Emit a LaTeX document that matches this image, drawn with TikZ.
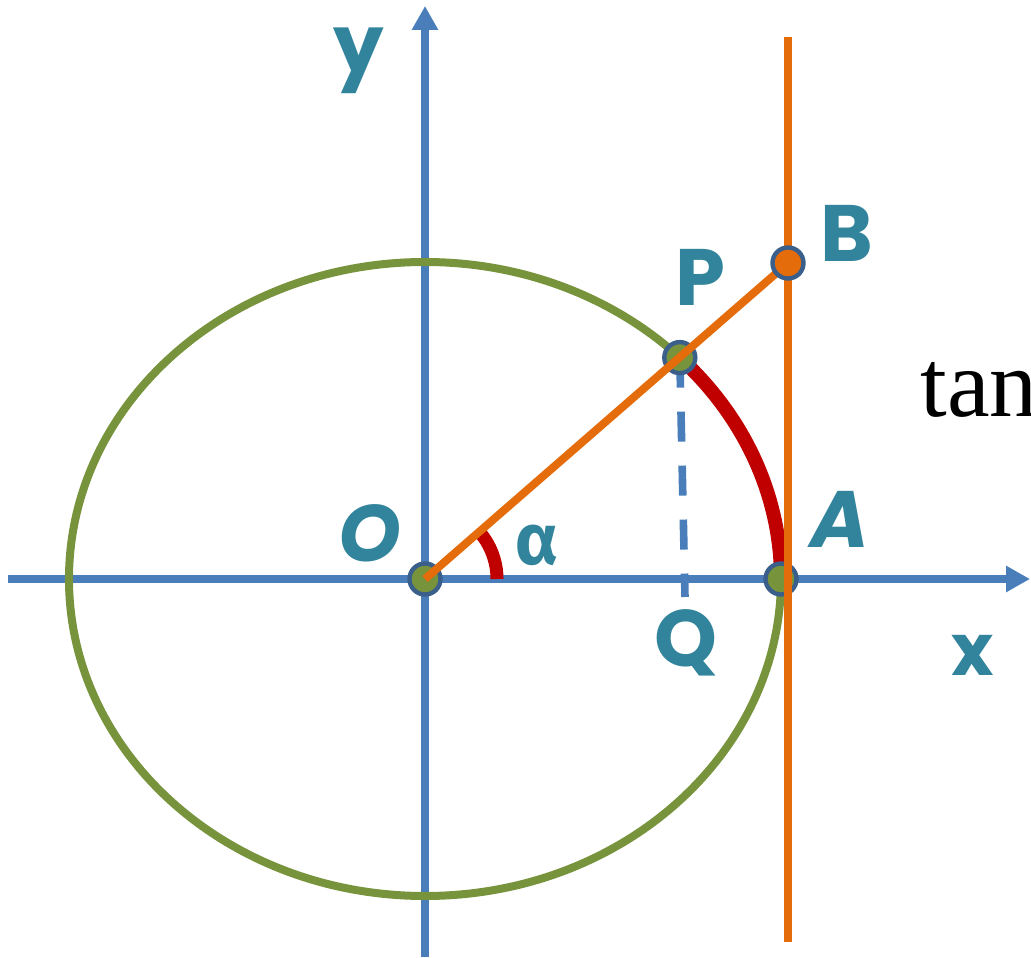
\documentclass[tikz,border=0pt]{standalone}
\usepackage{fontspec}
\usetikzlibrary{arrows.meta}
\newfontfamily\labfont{Poppins}
\newfontfamily\greekfont{Fira Sans}
\newfontfamily\tanfont{Liberation Serif}
\definecolor{axisblue}{HTML}{4A7EBB}
\definecolor{ellgreen}{HTML}{77933C}
\definecolor{lineorange}{HTML}{E46C0A}
\definecolor{arcred}{HTML}{C00000}
\definecolor{dotborder}{HTML}{3A5F8B}
\definecolor{labteal}{HTML}{31849B}
\tikzset{
  axis/.style={axisblue, line width=4.2pt, -{Triangle[width=12.5pt,length=12pt]}},
  ell/.style={ellgreen, line width=4pt},
  orange line/.style={lineorange, line width=4pt},
  redarc/.style={arcred, line width=7pt},
  pt/.style={circle, draw=dotborder, line width=2.2pt, minimum size=15.5pt, inner sep=0pt},
  lab/.style={text=labteal, font=\labfont\bfseries\fontsize{40}{40}\selectfont, inner sep=0pt},
}
\begin{document}
\begin{tikzpicture}[x=0.5pt, y=0.5pt]
\useasboundingbox (-425,-378) rectangle (606,579);
% coordinates
\coordinate (O) at (0,0);
\coordinate (A) at (356,0);
\coordinate (P) at (254.8,221.4);
\coordinate (B) at (363,316);
\coordinate (Qb) at (260,-18);
\coordinate (xs) at (-417,0);
\coordinate (xe) at (605,0);
\coordinate (ys) at (0,-378);
\coordinate (ye) at (0,573);
\coordinate (Ttop) at (363,542);
\coordinate (Tbot) at (363,-363);
% axes
\draw[axis] (xs) -- (xe);
\draw[axis] (ys) -- (ye);
% ellipse
\draw[ell] (O) ellipse[x radius=178pt, y radius=158.5pt];
% dashed projection
\draw[axisblue, line width=3.8pt, dash pattern=on 15pt off 12pt] (P) -- (Qb);
% red arc on ellipse
\draw[redarc] (A) arc[start angle=0, end angle=44.3, x radius=178pt, y radius=158.5pt];
% angle arc
\draw[arcred, line width=6.5pt] (36pt,0) arc[start angle=0, end angle=41, radius=36pt];
% dots
\node[pt, fill=ellgreen] (Odot) at (O) {};
\node[pt, fill=ellgreen] (Pdot) at (P) {};
\node[pt, fill=ellgreen] (Adot) at (A) {};
% orange lines
\draw[orange line] (Ttop) -- (Tbot);
\draw[orange line] (O) -- (B);
\node[pt, fill=lineorange] (Bdot) at (B) {};
% labels
\node[lab] (ylab) at (-66,518) {y};
\node[lab] (Plab) at (275,302) {P};
\node[lab] (Blab) at (422,346) {B};
\node[lab, font=\labfont\bfseries\itshape\fontsize{40}{40}\selectfont] (Olab) at (-55,46) {O};
\node[lab, font=\greekfont\bfseries\fontsize{36}{36}\selectfont] (alab) at (112,34) {α};
\node[lab, font=\labfont\bfseries\itshape\fontsize{40}{40}\selectfont] (Alab) at (415,60) {A};
\node[lab] (Qlab) at (261,-64) {Q};
\node[lab, font=\labfont\bfseries\fontsize{36}{36}\selectfont] (xlab) at (548,-76) {x};
\node[anchor=base west, inner sep=0pt, font=\tanfont\fontsize{48}{48}\selectfont] (tan) at (495,162) {tan};
\end{tikzpicture}
\end{document}
